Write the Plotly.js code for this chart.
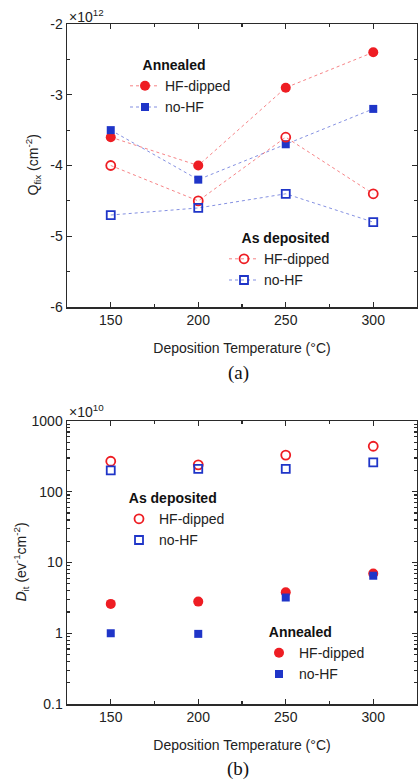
<!DOCTYPE html>
<html>
<head>
<meta charset="utf-8">
<script src="https://cdn.plot.ly/plotly-3.0.1.min.js"></script>
<style>html,body{margin:0;padding:0;background:#fff;}#chart{width:418px;height:781px;}</style>
</head>
<body>
<div id="chart"></div>
<script>
// Data
const temps = [150, 200, 250, 300];
const xTickVals = [150, 200, 250, 300];
const xTickText = ['150', '200', '250', '300'];
// Q_fix in units of 1e12 cm^-2
const qfixAnnealedHF = [-3.6, -4.0, -2.9, -2.4];
const qfixAnnealedNoHF = [-3.5, -4.2, -3.7, -3.2];
const qfixDepositedHF = [-4.0, -4.5, -3.6, -4.4];
const qfixDepositedNoHF = [-4.7, -4.6, -4.4, -4.8];
const qTickVals = [-6, -5, -4, -3, -2];
const qTickText = ['-6', '-5', '-4', '-3', '-2'];
// D_it in units of 1e10 eV^-1 cm^-2
const ditDepositedHF = [270, 240, 330, 440];
const ditDepositedNoHF = [200, 210, 210, 260];
const ditAnnealedHF = [2.6, 2.8, 3.8, 7.0];
const ditAnnealedNoHF = [1.0, 0.98, 3.2, 6.5];
const dTickVals = [0.1, 1, 10, 100, 1000];
const dTickText = ['0.1', '1', '10', '100', '1000'];

const RED = '#ee1d23';
const BLUE = '#1f35c8';
const RED_LINE = 'rgba(238,29,35,0.55)';
const BLUE_LINE = 'rgba(31,53,200,0.55)';
const FONT = 'Liberation Sans, Arial, sans-serif';
const AX = '#2a2a2a';

const traces = [
  {x: temps, y: qfixAnnealedHF, name: 'HF-dipped', mode: 'lines+markers', xaxis: 'x', yaxis: 'y', legend: 'legend',
   line: {color: RED_LINE, width: 1, dash: 'dot'}, marker: {symbol: 'circle', size: 10, color: RED}},
  {x: temps, y: qfixAnnealedNoHF, name: 'no-HF', mode: 'lines+markers', xaxis: 'x', yaxis: 'y', legend: 'legend',
   line: {color: BLUE_LINE, width: 1, dash: 'dot'}, marker: {symbol: 'square', size: 8, color: BLUE}},
  {x: temps, y: qfixDepositedHF, name: 'HF-dipped', mode: 'lines+markers', xaxis: 'x', yaxis: 'y', legend: 'legend2',
   line: {color: RED_LINE, width: 1, dash: 'dot'}, marker: {symbol: 'circle-open', size: 9, color: RED, line: {width: 1.8, color: RED}}},
  {x: temps, y: qfixDepositedNoHF, name: 'no-HF', mode: 'lines+markers', xaxis: 'x', yaxis: 'y', legend: 'legend2',
   line: {color: BLUE_LINE, width: 1, dash: 'dot'}, marker: {symbol: 'square-open', size: 8, color: BLUE, line: {width: 1.8, color: BLUE}}},
  {x: temps, y: ditDepositedHF, name: 'HF-dipped', mode: 'markers', xaxis: 'x2', yaxis: 'y2', legend: 'legend3',
   marker: {symbol: 'circle-open', size: 9, color: RED, line: {width: 1.8, color: RED}}},
  {x: temps, y: ditDepositedNoHF, name: 'no-HF', mode: 'markers', xaxis: 'x2', yaxis: 'y2', legend: 'legend3',
   marker: {symbol: 'square-open', size: 8, color: BLUE, line: {width: 1.8, color: BLUE}}},
  {x: temps, y: ditAnnealedHF, name: 'HF-dipped', mode: 'markers', xaxis: 'x2', yaxis: 'y2', legend: 'legend4',
   marker: {symbol: 'circle', size: 10, color: RED}},
  {x: temps, y: ditAnnealedNoHF, name: 'no-HF', mode: 'markers', xaxis: 'x2', yaxis: 'y2', legend: 'legend4',
   marker: {symbol: 'square', size: 8, color: BLUE}}
];

function xAxis(anchor) {
  return {
    anchor: anchor, domain: [0, 1], range: [125, 325],
    tickvals: xTickVals, ticktext: xTickText,
    ticks: 'inside', ticklen: 5, tickwidth: 1.2, tickcolor: AX,
    minor: {dtick: 25, tick0: 125, ticks: 'inside', ticklen: 3, tickcolor: AX, showgrid: false},
    showline: true, linecolor: AX, linewidth: 1.5, mirror: 'ticks',
    showgrid: false, zeroline: false,
    tickfont: {family: FONT, size: 14, color: '#222'},
    title: {text: 'Deposition Temperature (°C)', font: {family: FONT, size: 14, color: '#222'}, standoff: 16}
  };
}
function legendBox(x, y, title, pad) {
  return {
    x: x, y: y, xanchor: 'left', yanchor: 'top', bgcolor: 'rgba(0,0,0,0)',
    font: {family: FONT, size: 14, color: '#222'},
    title: {text: pad + '<b>' + title + '</b>', font: {family: FONT, size: 14, color: '#111'}, side: 'top'},
    itemwidth: 30, tracegroupgap: 0
  };
}
const NB4 = '\u00a0\u00a0\u00a0\u00a0';
const NB2 = '\u00a0\u00a0';

const layout = {
  width: 418, height: 781,
  margin: {l: 67, r: 1, t: 0, b: 0},
  paper_bgcolor: '#fff', plot_bgcolor: '#fff',
  font: {family: FONT, size: 14, color: '#222'},
  showlegend: true,
  xaxis: xAxis('y'),
  yaxis: {
    domain: [1 - 307 / 781, 1 - 24 / 781], anchor: 'x', range: [-6, -2],
    tickvals: qTickVals, ticktext: qTickText,
    ticks: 'inside', ticklen: 5, tickwidth: 1.2, tickcolor: AX,
    minor: {dtick: 0.5, ticks: 'inside', ticklen: 3, tickcolor: AX, showgrid: false},
    showline: true, linecolor: AX, linewidth: 1.5, mirror: 'ticks',
    showgrid: false, zeroline: false,
    tickfont: {family: FONT, size: 14, color: '#222'}
  },
  xaxis2: xAxis('y2'),
  yaxis2: {
    domain: [1 - 704 / 781, 1 - 421 / 781], anchor: 'x2', type: 'log', range: [-1, 3],
    tickvals: dTickVals, ticktext: dTickText,
    ticks: 'inside', ticklen: 5, tickwidth: 1.2, tickcolor: AX,
    minor: {ticks: 'inside', ticklen: 3, tickcolor: AX, showgrid: false, dtick: 'D1'},
    showline: true, linecolor: AX, linewidth: 1.5, mirror: 'ticks',
    showgrid: false, zeroline: false,
    tickfont: {family: FONT, size: 14, color: '#222'}
  },
  legend: legendBox((125 - 67) / 350, 1 - 52 / 781, 'Annealed', NB4),
  legend2: legendBox((224 - 67) / 350, 1 - 225 / 781, 'As deposited', NB4),
  legend3: legendBox((119 - 67) / 350, 1 - 485 / 781, 'As deposited', NB2),
  legend4: legendBox((259 - 67) / 350, 1 - 619 / 781, 'Annealed', NB2),
  annotations: [
    {text: 'Q<sub>fix</sub> (cm<sup>-2</sup>)', xref: 'paper', yref: 'paper', x: (33 - 67) / 350, y: 1 - 165.5 / 781,
     xanchor: 'center', yanchor: 'middle', textangle: -90, showarrow: false,
     font: {family: FONT, size: 14, color: '#222'}},
    {text: '<i>D</i><sub>it</sub> (ev<sup>-1</sup>cm<sup>-2</sup>)', xref: 'paper', yref: 'paper', x: (21 - 67) / 350, y: 1 - 562.5 / 781,
     xanchor: 'center', yanchor: 'middle', textangle: -90, showarrow: false,
     font: {family: FONT, size: 14, color: '#222'}},
    {text: '×10<sup>12</sup>', xref: 'paper', yref: 'paper', x: 0, y: 1 - 5 / 781, xanchor: 'left', yanchor: 'top', showarrow: false,
     font: {family: FONT, size: 14, color: '#222'}},
    {text: '×10<sup>10</sup>', xref: 'paper', yref: 'paper', x: 0, y: 1 - 400 / 781, xanchor: 'left', yanchor: 'top', showarrow: false,
     font: {family: FONT, size: 14, color: '#222'}},
    {text: '(a)', xref: 'paper', yref: 'paper', x: (238 - 67) / 350, y: 1 - 373 / 781, xanchor: 'center', yanchor: 'middle', showarrow: false,
     font: {family: 'Liberation Serif, Times New Roman, serif', size: 19, color: '#111'}},
    {text: '(b)', xref: 'paper', yref: 'paper', x: (238 - 67) / 350, y: 1 - 769 / 781, xanchor: 'center', yanchor: 'middle', showarrow: false,
     font: {family: 'Liberation Serif, Times New Roman, serif', size: 19, color: '#111'}}
  ]
};

Plotly.newPlot('chart', traces, layout, {staticPlot: true, displayModeBar: false});
</script>
</body>
</html>
